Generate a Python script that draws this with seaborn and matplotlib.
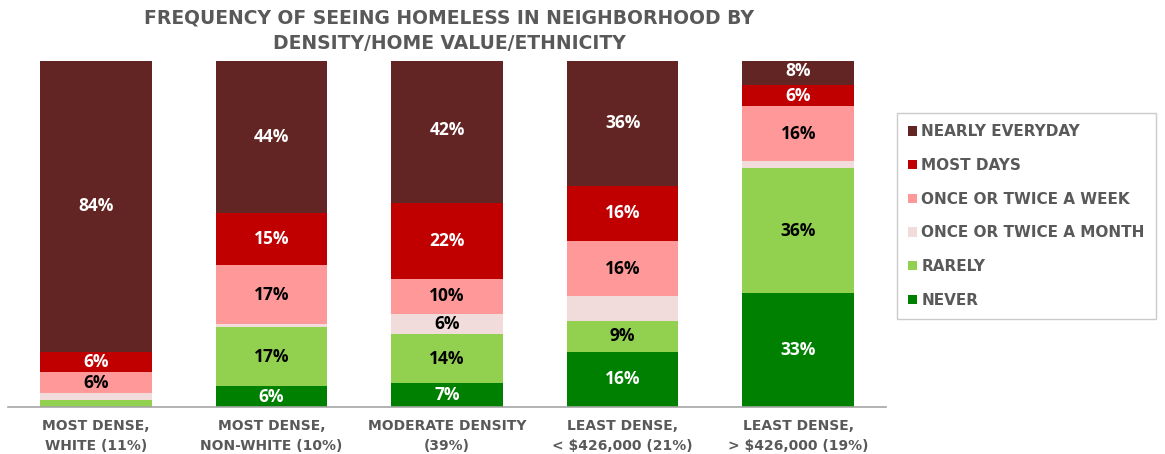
import numpy as np
import pandas as pd
import matplotlib
matplotlib.use("Agg")
import matplotlib.pyplot as plt
import seaborn as sns
from matplotlib.patches import Patch

groups = ["MOST DENSE,\nWHITE (11%)", "MOST DENSE,\nNON-WHITE (10%)", "MODERATE DENSITY\n(39%)",
          "LEAST DENSE,\n< $426,000 (21%)", "LEAST DENSE,\n> $426,000 (19%)"]

# stacked from the bottom up
series_names = ["NEVER", "RARELY", "ONCE OR TWICE A MONTH", "ONCE OR TWICE A WEEK", "MOST DAYS", "NEARLY EVERYDAY"]
never = [0, 6, 7, 16, 33]
rarely = [2, 17, 14, 9, 36]
month = [2, 1, 6, 7, 2]
week = [6, 17, 10, 16, 16]
most_days = [6, 15, 22, 16, 6]
nearly_everyday = [84, 44, 42, 36, 8]

# which segments carry a value label
show_never = [False, True, True, True, True]
show_rarely = [False, True, True, True, True]
show_month = [False, False, True, False, False]
show_week = [True, True, True, True, True]
show_most = [True, True, True, True, True]
show_nearly = [True, True, True, True, True]

colors = ["#008000", "#92D050", "#F2DCDB", "#FF9999", "#C00000", "#632523"]
text_colors = ["white", "black", "black", "black", "white", "white"]

values = [never, rarely, month, week, most_days, nearly_everyday]
shows = [show_never, show_rarely, show_month, show_week, show_most, show_nearly]

df = pd.DataFrame({name: v for name, v in zip(series_names, values)}, index=groups)
cum = df.cumsum(axis=1)

VALUE_FONT = "Open Sans"
LABEL_FONT = "DejaVu Sans"
GREY = "#595959"

fig = plt.figure(figsize=(11.65, 4.54), dpi=100)
ax = fig.add_axes([8 / 1165, 1 - 407 / 454, (886 - 8) / 1165, (407 - 61) / 454])

# draw cumulative totals from the top series down so each layer covers the one above
for i in range(len(series_names) - 1, -1, -1):
    name = series_names[i]
    data = pd.DataFrame({"group": groups, "value": cum[name].values})
    sns.barplot(data=data, x="group", y="value", color=colors[i], width=0.636,
                saturation=1, ax=ax, errorbar=None, linewidth=0)

for i, name in enumerate(series_names):
    for j, g in enumerate(groups):
        v = df.loc[g, name]
        if not shows[i][j] or v <= 0:
            continue
        bottom = cum.loc[g, name] - v
        ax.text(j, bottom + v / 2, f"{v:.0f}%", ha="center", va="center",
                fontsize=12.5, fontweight="bold", color=text_colors[i], family=VALUE_FONT)

ax.set_xlim(-0.5, 4.5)
ax.set_ylim(0, 100)
ax.set_xlabel("")
ax.set_ylabel("")
ax.set_yticks([])
for s in ["top", "right", "left"]:
    ax.spines[s].set_visible(False)
ax.spines["bottom"].set_color("#A6A6A6")
ax.spines["bottom"].set_linewidth(1.2)
ax.tick_params(axis="x", length=0, pad=9)
ax.set_xticks(range(len(groups)))
ax.set_xticklabels(groups, fontsize=10, fontweight="bold", color=GREY, family=LABEL_FONT,
                   linespacing=1.5)

fig.text(449 / 1165, 1 - 31 / 454, "FREQUENCY OF SEEING HOMELESS IN NEIGHBORHOOD BY\nDENSITY/HOME VALUE/ETHNICITY",
         ha="center", va="center", fontsize=13.5, fontweight="bold", color=GREY, family=LABEL_FONT,
         linespacing=1.45)

handles = [Patch(facecolor=colors[i], edgecolor="none") for i in range(len(series_names) - 1, -1, -1)]
labels = [series_names[i] for i in range(len(series_names) - 1, -1, -1)]
leg = fig.legend(handles, labels, loc="upper left", bbox_to_anchor=(897 / 1165, 1 - 113 / 454),
                 borderaxespad=0, frameon=True, fancybox=False, edgecolor="#BFBFBF",
                 handlelength=0.55, handleheight=0.55, handletextpad=0.3, labelspacing=1.22,
                 borderpad=0.75, prop={"family": LABEL_FONT, "weight": "bold", "size": 11})
for t in leg.get_texts():
    t.set_color(GREY)
leg.get_frame().set_linewidth(1.0)

fig.savefig("out.png", dpi=100)
